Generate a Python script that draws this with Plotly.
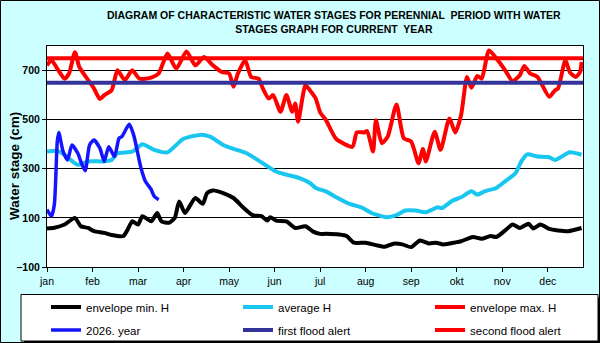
import plotly.graph_objects as go

# x values are day-of-year indices (0..364); one month label every 31 days
MONTHS = ["jan", "feb", "mar", "apr", "may", "jun", "jul", "aug", "sep", "okt", "nov", "dec"]

MIN_DAYS = [0, 5, 12, 19, 23, 28, 32, 39, 44, 52, 55, 58, 62, 65, 71, 75, 78, 83, 87, 90,
            94, 101, 106, 109, 113, 120, 127, 134, 140, 146, 150, 152, 156, 163, 169, 176,
            181, 186, 190, 199, 204, 209, 217, 224, 230, 236, 242, 248, 254, 260, 265, 270,
            278, 282, 290, 296, 302, 306, 312, 317, 322, 328, 331, 336, 342, 348, 355, 364]
MIN_H = [57, 60, 73, 100, 66, 59, 46, 39, 30, 26, 53, 86, 73, 107, 86, 120, 86, 80, 100, 167,
         120, 181, 157, 201, 212, 201, 181, 140, 111, 107, 89, 103, 89, 86, 59, 66,
         45, 35, 35, 32, 26, -1, -1, -11, -18, -5, -8, -19, 8, -4, -1, -8,
         0, 5, 22, 15, 26, 22, 49, 73, 59, 76, 57, 73, 55, 49, 46, 59]

AVG_DAYS = [0, 7, 12, 21, 28, 38, 44, 48, 58, 65, 73, 82, 88, 93, 104, 111, 120, 127, 136,
            145, 156, 163, 172, 179, 183, 190, 197, 206, 214, 221, 231, 238, 244, 251, 258,
            266, 269, 276, 282, 289, 293, 298, 306, 312, 319, 323, 327, 334, 342, 346, 356, 364]
AVG_H = [370, 373, 357, 316, 330, 330, 336, 363, 370, 400, 377, 367, 397, 422, 438, 431, 397,
         381, 363, 330, 289, 276, 262, 242, 222, 208, 184, 157, 143, 120, 103, 111, 130, 130,
         123, 143, 140, 170, 184, 208, 195, 208, 222, 249, 282, 330, 359, 350, 347, 336, 367, 357]

MAX_DAYS = [0, 3, 7, 12, 15, 19, 22, 28, 32, 36, 39, 44, 48, 53, 58, 63, 71, 76, 82, 88,
            95, 101, 107, 113, 119, 124, 127, 130, 135, 139, 144, 147, 151, 154, 159, 163,
            167, 169, 171, 176, 179, 183, 186, 190, 197, 208, 211, 216, 218, 222, 224, 228,
            232, 238, 243, 248, 253, 256, 258, 264, 268, 274, 278, 282, 286, 289, 293, 296,
            301, 307, 312, 317, 322, 325, 329, 334, 342, 346, 348, 353, 356, 360, 363, 364]
MAX_H = [721, 742, 708, 667, 688, 775, 715, 661, 627, 584, 600, 620, 701, 661, 701, 667, 671, 688, 769, 708,
         778, 721, 755, 721, 694, 688, 634, 688, 742, 674, 667, 627, 586, 600, 532, 600,
         532, 566, 492, 640, 620, 586, 530, 498, 421, 390, 448, 448, 454, 370, 498, 404,
         431, 562, 424, 411, 323, 381, 330, 451, 377, 505, 448, 519, 674, 630, 678, 667,
         782, 742, 701, 657, 681, 719, 688, 674, 593, 620, 627, 742, 694, 674, 694, 735]

CUR_DAYS = [0, 3, 5, 7, 8, 11, 14, 17, 21, 23, 26, 29, 32, 36, 39, 42, 46, 49, 51, 56, 59,
            64, 67, 71, 73, 76]
CUR_H = [134, 107, 154, 411, 448, 370, 336, 397, 363, 330, 292, 397, 417, 384, 330, 390, 350,
         424, 431, 481, 438, 303, 249, 215, 188, 174]

FIRST_FLOOD = 650
SECOND_FLOOD = 750
YEAR_DAYS = 365

# plot box in pixels
W, H = 600, 343
L, R, T, B = 47, 17, 46, 76
PW, PH = W - L - R, H - T - B


def px_x(x: float) -> float:
    """Pixel column -> paper x."""
    return (x - L) / PW


def px_y(y: float) -> float:
    """Pixel row -> paper y."""
    return (H - B - y) / PH


fig = go.Figure()

# (name, x, y, colour, width, legend row)
series = [
    ("envelope min. H", MIN_DAYS, MIN_H, "#000000", 4, "legend"),
    ("average H", AVG_DAYS, AVG_H, "#19c6f0", 4, "legend"),
    ("envelope max. H", MAX_DAYS, MAX_H, "#ff0000", 4, "legend"),
    ("2026. year", CUR_DAYS, CUR_H, "#1414ff", 3.5, "legend2"),
    ("first flood alert", [0, YEAR_DAYS], [FIRST_FLOOD] * 2, "#333399", 4, "legend2"),
    ("second flood alert", [0, YEAR_DAYS], [SECOND_FLOOD] * 2, "#ff0000", 4, "legend2"),
]
for name, xs, ys, color, width, leg in series:
    fig.add_trace(go.Scatter(
        x=xs, y=ys, name=name, mode="lines", legend=leg,
        line=dict(color=color, width=width, shape="spline", smoothing=0.6),
    ))

# legend frame with drop shadow
fig.add_shape(type="rect", xref="paper", yref="paper", layer="below",
              x0=px_x(24), x1=px_x(601), y0=px_y(344), y1=px_y(297.5),
              fillcolor="#000000", line=dict(width=0))
fig.add_shape(type="rect", xref="paper", yref="paper", layer="below",
              x0=px_x(21), x1=px_x(598), y0=px_y(341), y1=px_y(294.5),
              fillcolor="#ffffff", line=dict(color="#000000", width=1))
# outer border of the picture
fig.add_shape(type="rect", xref="paper", yref="paper", layer="below",
              x0=px_x(0.5), x1=px_x(599.5), y0=px_y(342.5), y1=px_y(0.5),
              line=dict(color="#000000", width=1))

fig.add_annotation(
    text="<b>DIAGRAM OF CHARACTERISTIC WATER STAGES FOR PERENNIAL  PERIOD WITH WATER<br>"
         "STAGES GRAPH FOR CURRENT  YEAR</b>",
    xref="paper", yref="paper", x=px_x(334), y=px_y(22),
    xanchor="center", yanchor="middle", showarrow=False,
    font=dict(family="Liberation Sans Narrow, Arial Narrow, Liberation Sans", size=10.5,
              color="#000000"),
)
fig.add_annotation(
    text="<b>Water stage (cm)</b>", textangle=-90,
    xref="paper", yref="paper", x=px_x(14), y=px_y(166),
    xanchor="center", yanchor="middle", showarrow=False,
    font=dict(family="Liberation Sans, Arial", size=13.5, color="#000000"),
)

legend_style = dict(
    orientation="h", xanchor="left", yanchor="middle",
    bgcolor="rgba(0,0,0,0)", borderwidth=0,
    entrywidth=147, tracegroupgap=0,
    font=dict(size=11.5, color="#000000"),
)

fig.update_layout(
    width=W, height=H,
    # legends sit in the bottom margin; keep them from resizing the plot
    margin=dict(l=L, r=R, t=T, b=B, autoexpand=False),
    paper_bgcolor="#ccffff",
    plot_bgcolor="#ffffff",
    font=dict(family="Liberation Sans, Arial", color="#000000"),
    showlegend=True,
    legend=dict(x=px_x(46), y=px_y(307), **legend_style),
    legend2=dict(x=px_x(46), y=px_y(330), **legend_style),
)
fig.update_xaxes(
    range=[0, YEAR_DAYS],
    tickvals=[31 * i for i in range(len(MONTHS))], ticktext=MONTHS,
    ticks="outside", ticklen=4, tickcolor="#000000",
    showgrid=False, zeroline=False,
    showline=True, mirror=True, linecolor="#000000", linewidth=1,
    tickfont=dict(size=10.5),
)
fig.update_yaxes(
    range=[-100, 800],
    tickvals=[-100, 100, 300, 500, 700],
    ticks="outside", ticklen=4, tickcolor="#000000",
    showgrid=True, gridcolor="#000000", gridwidth=1, zeroline=False,
    showline=True, mirror=True, linecolor="#000000", linewidth=1,
    tickfont=dict(size=10.5, weight="bold"),
)

fig.write_html(
    "out.html",
    config={"displayModeBar": False},
    post_script="document.body.style.margin='0';",
)
